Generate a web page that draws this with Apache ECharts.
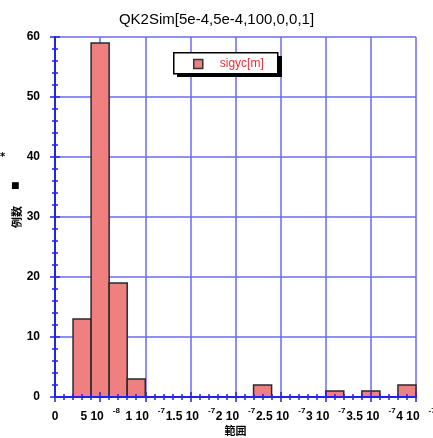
<!DOCTYPE html>
<html>
<head>
<meta charset="utf-8">
<script src="https://cdn.jsdelivr.net/npm/echarts@6/dist/echarts.min.js"></script>
<style>
html,body{margin:0;padding:0;background:#fff;}
#chart{width:433px;height:438px;}
</style>
</head>
<body>
<div id="chart"></div>
<script>
// ---- data ----
const titleText = 'QK2Sim[5e-4,5e-4,100,0,0,1]';
const seriesName = 'sigyc[m]';
const binStarts = [2e-8, 4e-8, 6e-8, 8e-8, 2.2e-7, 3.0e-7, 3.4e-7, 3.8e-7];
const binEnds   = [4e-8, 6e-8, 8e-8, 1e-7, 2.4e-7, 3.2e-7, 3.6e-7, 4.0e-7];
const counts    = [13, 59, 19, 3, 2, 1, 1, 2];
const xTickMant = ['0', '5 10', '1 10', '1.5 10', '2 10', '2.5 10', '3 10', '3.5 10', '4 10'];
const xTickExp  = ['', '-8', '-7', '-7', '-7', '-7', '-7', '-7', '-7'];
const xAxisName = '範囲';
const yAxisName = '例数';

const X_MIN = 0, X_MAX = 4e-7, X_INT = 5e-8;
const Y_MIN = 0, Y_MAX = 60, Y_INT = 10;

const frameBlue = '#2323e8';
const gridBlue = '#6a6af2';
const barFill = '#f08080';

const chart = echarts.init(document.getElementById('chart'));
const histData = binStarts.map((s, i) => [s, binEnds[i], counts[i]]);

const lineAxisCommon = {
  axisLine: { show: true, lineStyle: { color: frameBlue, width: 2 } },
  axisTick: { show: true, inside: true, length: 5, lineStyle: { color: frameBlue, width: 1.5 } },
  minorTick: { show: true, splitNumber: 5, length: 3, lineStyle: { color: frameBlue, width: 1.5 } },
  axisLabel: { show: false },
  splitLine: { show: false },
  z: 5
};

const option = {
  backgroundColor: '#fff',
  animation: false,
  title: {
    text: titleText,
    left: 'center',
    top: 7,
    textStyle: { fontFamily: 'Liberation Sans', fontSize: 15, fontWeight: 'normal', color: '#000' }
  },
  legend: {
    left: 173, top: 52,
    orient: 'vertical',
    data: [{ name: seriesName, icon: 'rect' }],
    itemWidth: 9, itemHeight: 9,
    padding: [6, 15, 6, 20],
    itemStyle: { color: barFill, borderColor: '#333', borderWidth: 1.5 },
    textStyle: { fontFamily: 'Liberation Sans', fontSize: 12, color: '#e8303a', padding: [0, 0, 0, 12] },
    z: 10
  },
  grid: { left: 55, top: 37, right: 17, bottom: 41, containLabel: false, outerBoundsMode: 'none' },
  xAxis: [
    {
      type: 'value', position: 'bottom', min: X_MIN, max: X_MAX, interval: X_INT,
      axisLine: { show: false }, axisTick: { show: false },
      splitLine: { show: true, lineStyle: { color: gridBlue, width: 1.5 } },
      name: xAxisName, nameLocation: 'middle', nameGap: 28, nameMoveOverlap: false,
      nameTextStyle: { fontFamily: 'Noto Sans CJK JP', fontWeight: 'bold', fontSize: 11, color: '#000' },
      axisLabel: {
        margin: 10,
        showMinLabel: true, showMaxLabel: true, hideOverlap: false,
        formatter: function (v, i) {
          const m = xTickMant[i] || '';
          const e = xTickExp[i] || '';
          return e ? '{n|' + m + '}{e|' + e + '}' : '{n|' + m + '}';
        },
        rich: {
          n: { fontFamily: 'Liberation Sans', fontWeight: 'bold', fontSize: 12, color: '#000', lineHeight: 16, verticalAlign: 'bottom' },
          e: { fontFamily: 'Liberation Sans', fontWeight: 'bold', fontSize: 8, color: '#000', lineHeight: 16, verticalAlign: 'top', padding: [0, 0, 0, 9] }
        }
      },
      z: 0
    },
    Object.assign({ type: 'value', position: 'bottom', min: X_MIN, max: X_MAX, interval: X_INT }, lineAxisCommon),
    Object.assign({ type: 'value', position: 'top', min: X_MIN, max: X_MAX, interval: X_INT }, lineAxisCommon)
  ],
  yAxis: [
    {
      type: 'value', position: 'left', min: Y_MIN, max: Y_MAX, interval: Y_INT,
      axisLine: { show: false }, axisTick: { show: false },
      splitLine: { show: true, lineStyle: { color: gridBlue, width: 1.5 } },
      name: yAxisName, nameLocation: 'middle', nameGap: 33, nameRotate: 90, nameMoveOverlap: false,
      nameTextStyle: { fontFamily: 'Noto Sans CJK JP', fontWeight: 'bold', fontSize: 11, color: '#000' },
      axisLabel: { margin: 15, fontFamily: 'Liberation Sans', fontWeight: 'bold', fontSize: 12, color: '#000' },
      z: 0
    },
    Object.assign({ type: 'value', position: 'left', min: Y_MIN, max: Y_MAX, interval: Y_INT }, lineAxisCommon),
    Object.assign({ type: 'value', position: 'right', min: Y_MIN, max: Y_MAX, interval: Y_INT }, lineAxisCommon)
  ],
  graphic: [
    { type: 'rect', left: 177, top: 56, z: 8, shape: { width: 105, height: 21 }, style: { fill: '#000' } },
    { type: 'rect', left: 173, top: 52, z: 9, shape: { width: 104, height: 21 }, style: { fill: '#fff', stroke: '#000', lineWidth: 1.5 } },
    { type: 'text', left: 11, top: 181, style: { text: '■', fontFamily: 'DejaVu Sans', fontSize: 9, fill: '#000' } },
    { type: 'text', left: 0, top: 152, style: { text: '*', fontFamily: 'DejaVu Sans', fontWeight: 'bold', fontSize: 10, fill: '#000' } }
  ],
  series: [{
    name: seriesName,
    type: 'custom',
    xAxisIndex: 0, yAxisIndex: 0,
    itemStyle: { color: barFill, borderColor: '#333', borderWidth: 1.5 },
    encode: { x: [0, 1], y: 2 },
    data: histData,
    renderItem: function (params, api) {
      const p0 = api.coord([api.value(0), api.value(2)]);
      const p1 = api.coord([api.value(1), 0]);
      return {
        type: 'rect',
        shape: { x: p0[0], y: p0[1], width: p1[0] - p0[0], height: p1[1] - p0[1] },
        style: { fill: barFill, stroke: '#2a2a2a', lineWidth: 1.5 }
      };
    },
    z: 2
  }]
};
chart.setOption(option);
</script>
</body>
</html>
